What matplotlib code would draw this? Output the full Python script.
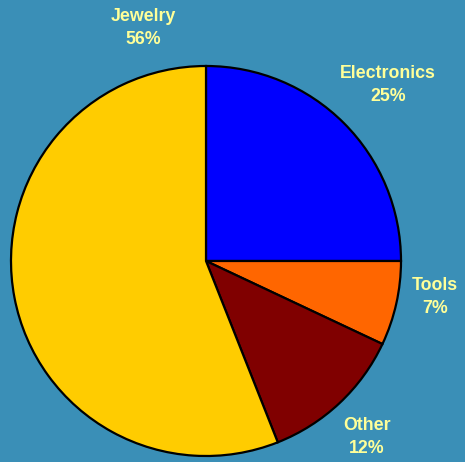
import matplotlib
matplotlib.use("Agg")
import matplotlib.pyplot as plt

categories = ["Electronics", "Tools", "Other", "Jewelry"]
values = [25, 7, 12, 56]
colors = ["#0000FF", "#FF6600", "#800000", "#FFCC00"]
label_pos = {"Electronics": (388, 85), "Tools": (435, 297), "Other": (367, 437), "Jewelry": (143, 28)}

W, H = 465, 462
bg = "#3A8FB7"
fig = plt.figure(figsize=(W / 100, H / 100), dpi=100, facecolor=bg)
ax = fig.add_axes([0, 0, 1, 1])
ax.set_facecolor(bg)
ax.pie(values, colors=colors, startangle=90, counterclock=False,
       center=(206, H - 261), radius=195, frame=True,
       wedgeprops=dict(edgecolor="black", linewidth=1.6))
ax.set_xlim(0, W)
ax.set_ylim(0, H)
ax.set_aspect("equal")
ax.axis("off")

for cat, val in zip(categories, values):
    x, y = label_pos[cat]
    ax.text(x, H - y, f"{cat}\n{val}%", ha="center", va="center",
            color="#FFFF99", fontsize=12.8, fontweight="bold",
            family="Liberation Sans", linespacing=1.42)

fig.savefig("out.png", dpi=100, facecolor=bg)
